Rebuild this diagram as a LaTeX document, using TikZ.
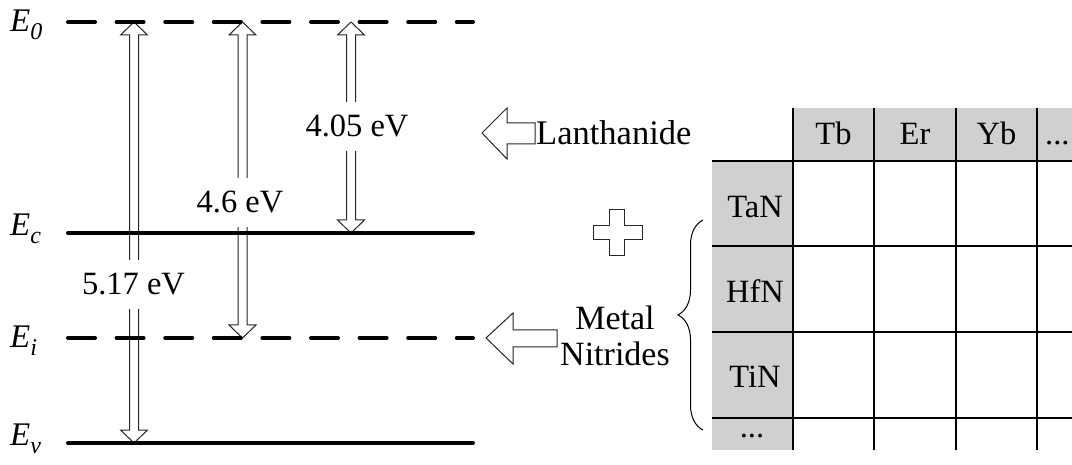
\documentclass[tikz,border=0pt]{standalone}
\usepackage{fontspec}
\setmainfont{Liberation Serif}
\usetikzlibrary{decorations.pathreplacing}
\definecolor{cellgray}{RGB}{208,208,208}
\newcommand\Elab[1]{\fontsize{33}{33}\selectfont\itshape E\raisebox{-8pt}{\fontsize{24}{24}\selectfont #1}}
\newcommand\dblarrow[3]{%
  \draw[hollow] (#1,#2) -- ++(13.5,13) -- ++(-9,0) -- (#1+4.5,#3-13) -- ++(9,0) -- (#1,#3)
     -- ++(-13.5,-13) -- ++(9,0) -- (#1-4.5,#2+13) -- ++(-9,0) -- cycle;}
\begin{document}
\begin{tikzpicture}[x=1pt,y=-1pt,
  level/.style={line width=4pt,line cap=round},
  dlevel/.style={level,dash pattern=on 27pt off 21.6pt},
  hollow/.style={draw=black!85,fill=white,line width=1pt,line join=miter},
  lbl/.style={font=\fontsize{34.5}{36}\selectfont,inner sep=0pt},
  evlbl/.style={font=\fontsize{32.5}{34}\selectfont,inner sep=0pt,fill=white,anchor=base},
  cell/.style={font=\fontsize{32.5}{34}\selectfont,inner sep=0pt,anchor=base},
  grid/.style={line width=1.2pt,black},
  elab/.style={inner sep=0pt,anchor=base west}]
\useasboundingbox (0,0) rectangle (1072,465);

% level coordinates
\coordinate (E0a) at (68,22);  \coordinate (E0b) at (473,22);
\coordinate (Eca) at (68,233); \coordinate (Ecb) at (473,233);
\coordinate (Eia) at (68,338); \coordinate (Eib) at (473,338);
\coordinate (Eva) at (68,443); \coordinate (Evb) at (473,443);

% hollow double arrows
\dblarrow{134}{22}{443}
\dblarrow{242.5}{22}{338}
\dblarrow{351}{22}{233}

% energy labels
\node[evlbl] (l517) at (133.5,295) {\rule[-14pt]{0pt}{49pt}5.17 eV};
\node[evlbl] (l46)  at (240,213)   {\rule[-14pt]{0pt}{49pt}4.6 eV};
\node[evlbl] (l405) at (357,137)   {\rule[-14pt]{0pt}{49pt}4.05 eV};

% level lines
\draw[dlevel] (E0a) -- (E0b);
\draw[level]  (Eca) -- (Ecb);
\draw[dlevel] (Eia) -- (Eib);
\draw[level]  (Eva) -- (Evb);

% level names
\node[elab] (n0) at (10,32)  {\Elab{0}};
\node[elab] (nc) at (10,236) {\Elab{c}};
\node[elab] (ni) at (10,348) {\Elab{i}};
\node[elab] (nv) at (10,445) {\Elab{v}};

% block arrows
\draw[hollow] (482,133) -- (507,108) -- (507,123) -- (535,123) -- (535,144) -- (507,144) -- (507,159) -- cycle;
\draw[hollow] (486,338) -- (513,313) -- (513,330) -- (557,330) -- (557,347) -- (513,347) -- (513,364) -- cycle;
\node[lbl,anchor=base west] (lan) at (536,145) {Lanthanide};
\node[lbl,align=center,font=\fontsize{34}{36}\selectfont] (mn) at (615,336) {Metal\\Nitrides};

% plus sign
\draw[hollow] (609.5,210) -- (624.5,210) -- (624.5,226) -- (642,226) -- (642,240) -- (624.5,240)
  -- (624.5,256) -- (609.5,256) -- (609.5,240) -- (593,240) -- (593,226) -- (609.5,226) -- cycle;

% brace
\draw[line width=1pt,decorate,decoration={brace,amplitude=25pt,aspect=0.548}] (703,430) -- (703,220);

% table
\fill[cellgray] (793,108) rectangle (1072,161);
\fill[cellgray] (712,161) rectangle (793,450);
\foreach \x in {793,874,956,1037} \draw[grid] (\x,108) -- (\x,450);
\foreach \y in {161,246,332,418} \draw[grid] (712,\y) -- (1072,\y);
\node[cell] (tb) at (833.5,145) {Tb};
\node[cell] (er) at (915,145) {Er};
\node[cell] (yb) at (996.5,145) {Yb};
\node[cell,anchor=base west] (hd) at (1045,145) {...};
\node[cell] (tan) at (755,218) {TaN};
\node[cell] (hfn) at (755,303) {HfN};
\node[cell] (tin) at (755,388) {TiN};
\node[cell] (rd) at (752,437) {...};
\end{tikzpicture}
\end{document}
